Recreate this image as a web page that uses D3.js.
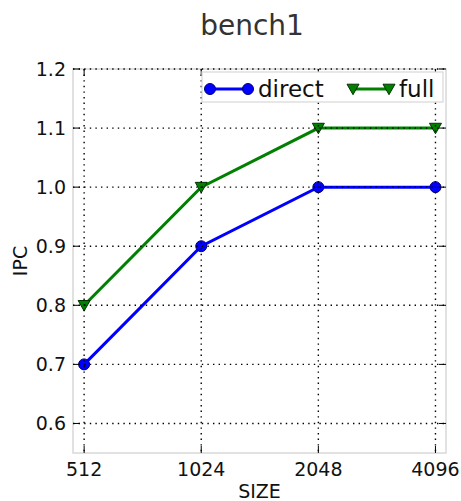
<!DOCTYPE html>
<html><head><meta charset="utf-8">
<script src="https://cdn.jsdelivr.net/npm/d3@7"></script>
<style>body{margin:0;background:#fff}svg{display:block}text{font-family:"DejaVu Sans",sans-serif}</style>
</head><body><svg id="c" width="461" height="501"></svg>
<script>
const sizes = [512, 1024, 2048, 4096];
const xTickLabels = ["512", "1024", "2048", "4096"];
const directIPC = [0.7, 0.9, 1.0, 1.0];
const fullIPC = [0.8, 1.0, 1.1, 1.1];
const yTicks = [0.6, 0.7, 0.8, 0.9, 1.0, 1.1, 1.2];

const svg = d3.select("#c");
const L = 73, R = 446, T = 69, B = 453;
const x = d3.scaleLog().base(2).domain([2**8.905, 2**12.09]).range([L, R]);
const y = d3.scaleLinear().domain([0.55, 1.2]).range([B, T]);

// frame
svg.append("rect").attr("x", L).attr("y", T).attr("width", R - L).attr("height", B - T)
  .attr("fill", "none").attr("stroke", "#d8d8d8").attr("stroke-width", 1.5);

// lines & markers
const series = [
  {name: "direct", vals: directIPC, color: "#0000ff", marker: "circle"},
  {name: "full", vals: fullIPC, color: "#008000", marker: "tri"}
];
const line = d3.line().x((d, i) => x(sizes[i])).y(d => y(d));
const triPath = s => `M${-s},${-s*0.8}L${s},${-s*0.8}L0,${s*0.95}Z`;
function drawMarker(g, type, cx, cy, color) {
  if (type === "circle") {
    g.append("circle").attr("cx", cx).attr("cy", cy).attr("r", 5.5)
      .attr("fill", color).attr("stroke", "#00007a").attr("stroke-width", 1);
  } else {
    g.append("path").attr("d", triPath(6)).attr("transform", `translate(${cx},${cy})`)
      .attr("fill", color).attr("stroke", "#003300").attr("stroke-width", 1);
  }
}
series.forEach(s => {
  svg.append("path").datum(s.vals).attr("d", line).attr("fill", "none")
    .attr("stroke", s.color).attr("stroke-width", 3);
  s.vals.forEach((v, i) => drawMarker(svg, s.marker, x(sizes[i]), y(v), s.color));
});

// grid (on top)
const grid = svg.append("g").attr("stroke", "#000").attr("stroke-width", 1.4)
  .attr("stroke-dasharray", "1.4,4.2");
yTicks.forEach(t => grid.append("line").attr("x1", L).attr("x2", R).attr("y1", y(t)).attr("y2", y(t)));
sizes.forEach(s => grid.append("line").attr("x1", x(s)).attr("x2", x(s)).attr("y1", T).attr("y2", B));

// ticks (inward, both sides)
const tk = svg.append("g").attr("stroke", "#000").attr("stroke-width", 1);
yTicks.forEach(t => {
  tk.append("line").attr("x1", L).attr("x2", L + 7).attr("y1", y(t)).attr("y2", y(t));
  tk.append("line").attr("x1", R).attr("x2", R - 7).attr("y1", y(t)).attr("y2", y(t));
});
sizes.forEach(s => {
  tk.append("line").attr("x1", x(s)).attr("x2", x(s)).attr("y1", B).attr("y2", B - 7);
  tk.append("line").attr("x1", x(s)).attr("x2", x(s)).attr("y1", T).attr("y2", T + 7);
});

// tick labels
svg.append("g").selectAll("text").data(yTicks).join("text")
  .attr("x", L - 7).attr("y", d => y(d)).attr("dy", "0.36em").attr("text-anchor", "end")
  .attr("font-size", 19).attr("fill", "#111").text(d => d.toFixed(1));
svg.append("g").selectAll("text").data(sizes).join("text")
  .attr("x", d => x(d)).attr("y", B + 23).attr("text-anchor", "middle")
  .attr("font-size", 19).attr("fill", "#111").text((d, i) => xTickLabels[i]);

// axis labels
svg.append("text").attr("x", (L + R) / 2).attr("y", 498).attr("text-anchor", "middle")
  .attr("font-size", 19).attr("fill", "#111").text("SIZE");
svg.append("text").attr("transform", `translate(27,${(T + B) / 2}) rotate(-90)`)
  .attr("text-anchor", "middle").attr("font-size", 19).attr("fill", "#111").text("IPC");

// title
svg.append("text").attr("x", 252).attr("y", 35).attr("text-anchor", "middle")
  .attr("font-size", 28).attr("fill", "#333").text("bench1");

// legend
const lg = svg.append("g");
lg.append("rect").attr("x", 202).attr("y", 72).attr("width", 241).attr("height", 30)
  .attr("fill", "#fff").attr("stroke", "#d8d8d8").attr("stroke-width", 1.2);
const items = [{s: series[0], x0: 210, x1: 248, tx: 258}, {s: series[1], x0: 353, x1: 389, tx: 399}];
items.forEach(it => {
  lg.append("line").attr("x1", it.x0).attr("x2", it.x1).attr("y1", 89).attr("y2", 89)
    .attr("stroke", it.s.color).attr("stroke-width", 3);
  drawMarker(lg, it.s.marker, it.x0, 89, it.s.color);
  drawMarker(lg, it.s.marker, it.x1, 89, it.s.color);
  lg.append("text").attr("x", it.tx).attr("y", 89).attr("dy", "0.36em")
    .attr("font-size", 23).attr("fill", "#111").text(it.s.name);
});
</script></body></html>
